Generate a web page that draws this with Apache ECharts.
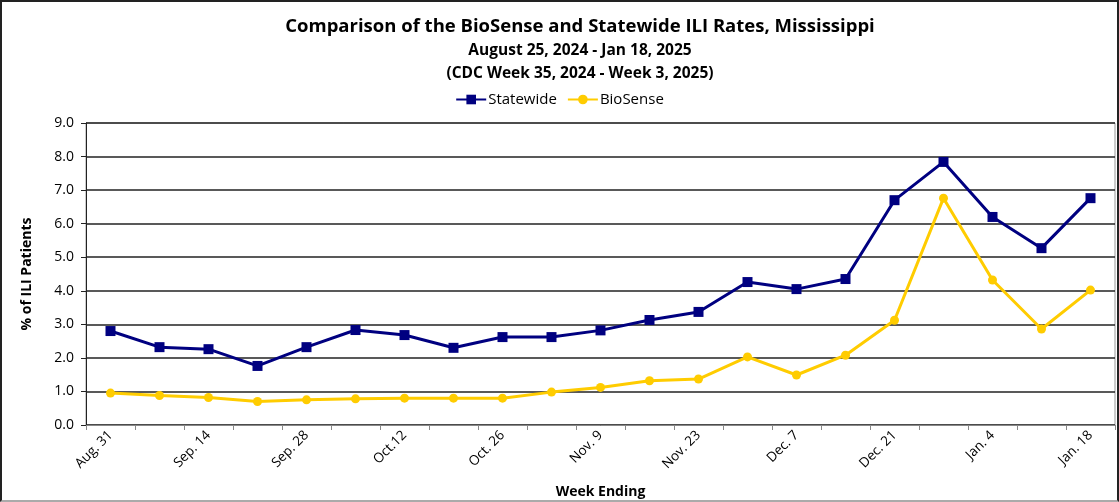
<!DOCTYPE html>
<html><head><meta charset="utf-8">
<script src="https://cdn.jsdelivr.net/npm/echarts@6/dist/echarts.min.js"></script>
<style>
html,body{margin:0;padding:0;background:#fff;}
#wrap{position:absolute;left:0;top:0;width:1119px;height:502px;box-sizing:border-box;border:2px solid #222;border-bottom-color:#aaa;}
#c{position:absolute;left:0;top:0;width:1119px;height:502px;}
</style></head>
<body>
<div id="c"></div>
<div id="wrap"></div>
<script>
const categories = ["Aug. 31","Sep. 7","Sep. 14","Sep. 21","Sep. 28","Oct. 5","Oct.12","Oct. 19","Oct. 26","Nov. 2","Nov. 9","Nov. 16","Nov. 23","Nov. 30","Dec. 7","Dec. 14","Dec. 21","Dec. 28","Jan. 4","Jan. 11","Jan. 18"];
const statewide = [2.80,2.32,2.26,1.76,2.32,2.83,2.68,2.30,2.62,2.62,2.82,3.13,3.37,4.26,4.05,4.35,6.70,7.84,6.20,5.27,6.76];
const biosense = [0.95,0.88,0.82,0.70,0.75,0.78,0.80,0.80,0.80,0.98,1.12,1.32,1.37,2.03,1.49,2.08,3.12,6.76,4.32,2.86,4.02];
const titleText = "Comparison of the BioSense and Statewide ILI Rates, Mississippi";
const subText = "August 25, 2024 - Jan 18, 2025\n(CDC Week 35, 2024 - Week 3, 2025)";

const font = "'Open Sans', 'Noto Sans', sans-serif";
const chart = echarts.init(document.getElementById('c'));
chart.setOption({
  animation:false,
  textStyle:{fontFamily:font},
  title:{
    text:titleText, subtext:subText, left:575, textAlign:'center', top:12,
    textStyle:{fontFamily:font,fontSize:18.5,fontWeight:'bold',color:'#000'},
    subtextStyle:{fontFamily:font,fontSize:15.5,fontWeight:'bold',color:'#000',lineHeight:23},
    itemGap:3
  },
  legend:{
    top:87, left:'center', itemGap:10, itemWidth:30, itemHeight:12,
    textStyle:{fontFamily:font,fontSize:15,color:'#000',padding:[0,0,0,-3]},
    data:['Statewide','BioSense']
  },
  grid:{left:86,right:4,top:123,bottom:77,show:true,borderColor:'#999',borderWidth:1,outerBoundsMode:'none',containLabel:false},
  xAxis:{
    type:'category', data:categories, boundaryGap:true,
    name:'Week Ending', nameLocation:'middle', nameGap:60,
    nameTextStyle:{fontFamily:font,fontSize:14,fontWeight:'bold',color:'#000'},
    axisLine:{lineStyle:{color:'#888',width:1}},
    axisTick:{show:true,interval:0,length:5,lineStyle:{color:'#888'}},
    axisLabel:{interval:1,rotate:45,fontSize:13.5,color:'#000',margin:8,fontFamily:font}
  },
  yAxis:{
    type:'value', min:0, max:9, interval:1,
    name:'% of ILI Patients', nameLocation:'middle', nameGap:52, nameRotate:90,
    nameTextStyle:{fontFamily:font,fontSize:14,fontWeight:'bold',color:'#000'},
    axisLine:{show:true,lineStyle:{color:'#222',width:1}},
    axisTick:{show:true,length:5,lineStyle:{color:'#222'}},
    axisLabel:{formatter:v=>v.toFixed(1),fontSize:14,color:'#000',margin:12,fontFamily:font},
    splitLine:{lineStyle:{color:'#222',width:1.5}}
  },
  series:[
    {name:'Statewide',type:'line',data:statewide,symbol:'rect',symbolSize:10,
     lineStyle:{color:'#000080',width:3},itemStyle:{color:'#000080'}},
    {name:'BioSense',type:'line',data:biosense,symbol:'circle',symbolSize:9,
     lineStyle:{color:'#FFCC00',width:3},itemStyle:{color:'#FFCC00'}}
  ]
});
</script>
</body></html>
